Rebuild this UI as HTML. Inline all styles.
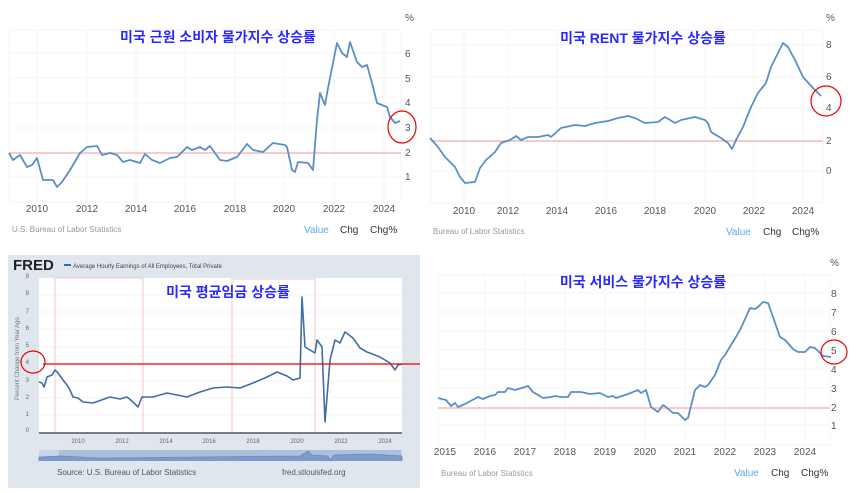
<!DOCTYPE html>
<html><head><meta charset="utf-8"><style>
html,body{margin:0;padding:0;background:#fff;width:857px;height:493px;overflow:hidden}
svg text{font-family:"Liberation Sans","Noto Sans CJK KR",sans-serif}
.t{fill:#2929ff;font-size:14px;font-weight:bold}
.ax{fill:#555;font-size:10px}
.sm{fill:#999;font-size:8px}
.ln{fill:none;stroke:#5b8ec9;stroke-width:1.8;stroke-linejoin:round}
.g{stroke:#f4f4f4;stroke-width:1}
</style></head><body>
<svg width="857" height="493" viewBox="0 0 857 493" xmlns="http://www.w3.org/2000/svg">
<!-- Panel 1 -->
<g>
<rect x="9" y="30" width="392" height="172" fill="#fff" stroke="#f5f5f5"/>
<g class="g"><line x1="9" y1="53" x2="401" y2="53"/><line x1="9" y1="78" x2="401" y2="78"/><line x1="9" y1="103" x2="401" y2="103"/><line x1="9" y1="128" x2="401" y2="128"/><line x1="9" y1="177" x2="401" y2="177"/>
<line x1="37" y1="30" x2="37" y2="202"/><line x1="87" y1="30" x2="87" y2="202"/><line x1="136" y1="30" x2="136" y2="202"/><line x1="185" y1="30" x2="185" y2="202"/><line x1="235" y1="30" x2="235" y2="202"/><line x1="284" y1="30" x2="284" y2="202"/><line x1="334" y1="30" x2="334" y2="202"/><line x1="384" y1="30" x2="384" y2="202"/></g>
<line x1="9" y1="153" x2="401" y2="153" stroke="#f6b8b8" stroke-width="1.5"/>
<polyline class="ln" points="9,153 13,160 20,155 27,167 32,165 37,158 43,180 53,180 57,187 62,182 70,170 80,153 87,147 97,146 102,155 110,153 117,155 123,162 130,160 140,163 145,154 152,160 160,163 170,158 177,157 187,147 192,150 200,147 205,150 210,146 220,160 227,161 237,157 247,144 253,150 263,152 273,143 285,145 287,147 292,170 295,172 298,162 308,163 313,170 317,120 320,93 325,105 328,88 333,63 337,43 342,53 347,57 350,42 357,62 362,67 367,65 372,83 377,103 387,107 390,117 395,123 400,121"/>
<ellipse cx="402" cy="127" rx="14" ry="16" fill="none" stroke="#e00" stroke-width="1.2"/>
<text class="t" x="218" y="42" text-anchor="middle">미국 근원 소비자 물가지수 상승률</text>
<text class="ax" x="405" y="21" fill="#999">%</text>
<g class="ax"><text x="405" y="57">6</text><text x="405" y="82">5</text><text x="405" y="106">4</text><text x="405" y="131">3</text><text x="405" y="156">2</text><text x="405" y="180">1</text></g>
<g class="ax" text-anchor="middle"><text x="37" y="212">2010</text><text x="87" y="212">2012</text><text x="136" y="212">2014</text><text x="185" y="212">2016</text><text x="235" y="212">2018</text><text x="284" y="212">2020</text><text x="334" y="212">2022</text><text x="384" y="212">2024</text></g>
<text class="sm" x="12" y="232">U.S. Bureau of Labor Statistics</text>
<text x="304" y="233" font-size="10" fill="#5aa9ef">Value</text><text x="340" y="233" font-size="10" fill="#333">Chg</text><text x="370" y="233" font-size="10" fill="#333">Chg%</text>
</g>
<!-- Panel 3 -->
<g>
<rect x="431" y="30" width="392" height="173" fill="#fff" stroke="#f5f5f5"/>
<g class="g"><line x1="431" y1="45" x2="823" y2="45"/><line x1="431" y1="77" x2="823" y2="77"/><line x1="431" y1="108" x2="823" y2="108"/><line x1="431" y1="171" x2="823" y2="171"/>
<line x1="464" y1="30" x2="464" y2="203"/><line x1="508" y1="30" x2="508" y2="203"/><line x1="557" y1="30" x2="557" y2="203"/><line x1="606" y1="30" x2="606" y2="203"/><line x1="655" y1="30" x2="655" y2="203"/><line x1="705" y1="30" x2="705" y2="203"/><line x1="754" y1="30" x2="754" y2="203"/><line x1="803" y1="30" x2="803" y2="203"/></g>
<line x1="431" y1="141" x2="823" y2="141" stroke="#f6b8b8" stroke-width="1.5"/>
<polyline class="ln" points="430,138 438,147 445,157 455,167 460,177 465,183 475,182 480,168 486,160 495,152 501,143 510,140 516,136 521,140 528,137 538,137 548,135 551,137 561,128 575,125 585,126 595,123 608,121 618,118 628,116 635,118 645,123 658,122 665,117 675,123 681,120 695,117 705,120 708,123 711,132 721,138 728,143 732,149 736,140 743,127 751,107 758,93 766,83 771,67 778,53 783,43 788,47 795,60 803,77 813,88 821,96"/>
<ellipse cx="826" cy="101" rx="15" ry="15" fill="none" stroke="#e00" stroke-width="1.2"/>
<text class="t" x="643" y="43" text-anchor="middle">미국 RENT 물가지수 상승률</text>
<text class="ax" x="826" y="21" fill="#999">%</text>
<g class="ax"><text x="826" y="48">8</text><text x="826" y="80">6</text><text x="826" y="111">4</text><text x="826" y="144">2</text><text x="826" y="174">0</text></g>
<g class="ax" text-anchor="middle"><text x="464" y="214">2010</text><text x="508" y="214">2012</text><text x="557" y="214">2014</text><text x="606" y="214">2016</text><text x="655" y="214">2018</text><text x="705" y="214">2020</text><text x="754" y="214">2022</text><text x="803" y="214">2024</text></g>
<text class="sm" x="433" y="234">Bureau of Labor Statistics</text>
<text x="726" y="235" font-size="10" fill="#5aa9ef">Value</text><text x="763" y="235" font-size="10" fill="#333">Chg</text><text x="792" y="235" font-size="10" fill="#333">Chg%</text>
</g>
<!-- Panel 2 FRED -->
<g>
<rect x="8" y="255" width="412" height="233" fill="#dfe6ee"/>
<rect x="39" y="278" width="363" height="155" fill="#fff"/>
<g class="g"><line x1="39" y1="295" x2="402" y2="295"/><line x1="39" y1="312" x2="402" y2="312"/><line x1="39" y1="329" x2="402" y2="329"/><line x1="39" y1="347" x2="402" y2="347"/><line x1="39" y1="381" x2="402" y2="381"/><line x1="39" y1="398" x2="402" y2="398"/><line x1="39" y1="415" x2="402" y2="415"/></g>
<g stroke="#f7c4c4" stroke-width="1"><line x1="55" y1="278" x2="55" y2="432"/><line x1="143" y1="278" x2="143" y2="432"/><line x1="232" y1="278" x2="232" y2="432"/><line x1="315" y1="278" x2="315" y2="432"/><line x1="55" y1="278" x2="143" y2="278"/><line x1="232" y1="279" x2="315" y2="279"/></g>
<line x1="39" y1="433" x2="402" y2="433" stroke="#555" stroke-width="1.5"/>
<polyline fill="none" stroke="#3f6ea5" stroke-width="1.6" stroke-linejoin="round" points="39,382 42,383 44,387 47,377 52,375 55,370 58,373 63,380 67,385 70,390 73,397 78,398 83,402 93,403 110,397 120,399 127,397 133,402 138,407 142,397 153,397 167,393 187,397 200,392 213,388 227,387 240,388 253,383 267,377 277,372 287,376 293,380 300,378 302,297 305,347 315,353 317,340 322,347 325,422 330,360 335,340 340,343 345,332 353,338 360,348 367,352 380,357 390,363 395,370 398,365 402,364"/>
<line x1="43" y1="364" x2="420" y2="364" stroke="#e00" stroke-width="1.3"/>
<ellipse cx="33" cy="362" rx="12" ry="11" fill="none" stroke="#e00" stroke-width="1.2"/>
<text x="13" y="270" font-size="15" font-weight="bold" fill="#222">FRED</text>
<line x1="64" y1="265" x2="71" y2="265" stroke="#3f6ea5" stroke-width="2"/>
<text x="73" y="268" font-size="6" fill="#444">Average Hourly Earnings of All Employees, Total Private</text>
<text class="t" x="228" y="297" text-anchor="middle">미국 평균임금 상승률</text>
<g font-size="6" fill="#666" text-anchor="end"><text x="29" y="278">9</text><text x="29" y="295">8</text><text x="29" y="313">7</text><text x="29" y="330">6</text><text x="29" y="347">5</text><text x="29" y="364">4</text><text x="29" y="382">3</text><text x="29" y="399">2</text><text x="29" y="416">1</text><text x="29" y="432">0</text></g>
<text x="19" y="400" font-size="6" fill="#777" transform="rotate(-90 19 400)">Percent Change from Year Ago</text>
<g font-size="6" fill="#666" text-anchor="middle"><text x="78" y="443">2010</text><text x="122" y="443">2012</text><text x="166" y="443">2014</text><text x="209" y="443">2016</text><text x="253" y="443">2018</text><text x="297" y="443">2020</text><text x="341" y="443">2022</text><text x="385" y="443">2024</text></g>
<rect x="39" y="450" width="363" height="11" fill="#c8d4e6"/>
<rect x="59" y="450" width="342" height="11" fill="#aebfdc"/>
<polyline fill="#7d9bc8" stroke="#6a8cc0" stroke-width="0.8" points="39,461 39,457 60,456 100,458 200,457 300,456 308,451 312,455 328,456 330,460 334,455 370,454 402,456 402,461"/>
<text x="57" y="475" font-size="8" fill="#555">Source: U.S. Bureau of Labor Statistics</text>
<text x="282" y="475" font-size="8" fill="#555">fred.stlouisfed.org</text>
</g>
<!-- Panel 4 -->
<g>
<rect x="438" y="275" width="392" height="170" fill="#fff" stroke="#f5f5f5"/>
<g class="g"><line x1="438" y1="293" x2="830" y2="293"/><line x1="438" y1="312" x2="830" y2="312"/><line x1="438" y1="331" x2="830" y2="331"/><line x1="438" y1="350" x2="830" y2="350"/><line x1="438" y1="369" x2="830" y2="369"/><line x1="438" y1="388" x2="830" y2="388"/><line x1="438" y1="425" x2="830" y2="425"/>
<line x1="485" y1="275" x2="485" y2="445"/><line x1="525" y1="275" x2="525" y2="445"/><line x1="565" y1="275" x2="565" y2="445"/><line x1="605" y1="275" x2="605" y2="445"/><line x1="645" y1="275" x2="645" y2="445"/><line x1="685" y1="275" x2="685" y2="445"/><line x1="725" y1="275" x2="725" y2="445"/><line x1="765" y1="275" x2="765" y2="445"/><line x1="805" y1="275" x2="805" y2="445"/></g>
<line x1="438" y1="408" x2="830" y2="408" stroke="#f6b8b8" stroke-width="1.5"/>
<polyline class="ln" points="438,398 446,400 451,406 455,403 458,407 465,404 478,397 483,399 490,396 495,395 498,392 505,392 508,388 515,390 525,387 528,386 533,392 543,398 551,397 555,396 561,397 568,397 571,392 581,392 590,394 600,393 608,397 613,396 616,398 628,394 638,390 641,393 646,390 651,407 658,412 663,405 666,407 673,413 678,413 685,420 688,418 695,390 700,385 705,387 708,385 715,375 721,360 725,355 731,345 736,337 741,328 750,308 755,309 758,307 763,302 768,303 773,317 780,337 785,340 793,349 798,352 805,352 810,347 815,348 823,356 831,357"/>
<ellipse cx="834" cy="352" rx="13" ry="12" fill="none" stroke="#e00" stroke-width="1.2"/>
<text class="t" x="643" y="287" text-anchor="middle">미국 서비스 물가지수 상승률</text>
<text class="ax" x="830" y="266" fill="#999">%</text>
<g class="ax"><text x="831" y="297">8</text><text x="831" y="316">7</text><text x="831" y="335">6</text><text x="831" y="354">5</text><text x="831" y="373">4</text><text x="831" y="392">3</text><text x="831" y="411">2</text><text x="831" y="429">1</text></g>
<g class="ax" text-anchor="middle"><text x="445" y="455">2015</text><text x="485" y="455">2016</text><text x="525" y="455">2017</text><text x="565" y="455">2018</text><text x="605" y="455">2019</text><text x="645" y="455">2020</text><text x="685" y="455">2021</text><text x="725" y="455">2022</text><text x="765" y="455">2023</text><text x="805" y="455">2024</text></g>
<text class="sm" x="441" y="476">Bureau of Labor Statistics</text>
<text x="734" y="476" font-size="10" fill="#5aa9ef">Value</text><text x="771" y="476" font-size="10" fill="#333">Chg</text><text x="801" y="476" font-size="10" fill="#333">Chg%</text>
</g>
</svg>
</body></html>
